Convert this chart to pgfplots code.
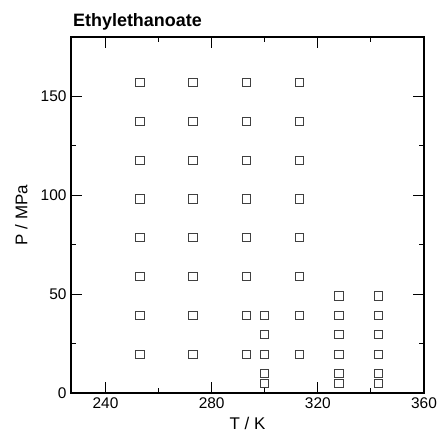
\documentclass[border=0pt]{standalone}
\usepackage{pgfplots}
\pgfplotsset{compat=1.18}
\usepackage{fontspec}
\setmainfont{Liberation Sans}
\setsansfont{Liberation Sans}

% Measured state points: temperature T / K, pressure P / MPa
\pgfplotstableread{
T P
253 19.6
253 39.2
253 58.8
253 78.5
253 98.1
253 117.7
253 137.3
253 156.9
273 19.6
273 39.2
273 58.8
273 78.5
273 98.1
273 117.7
273 137.3
273 156.9
293 19.6
293 39.2
293 58.8
293 78.5
293 98.1
293 117.7
293 137.3
293 156.9
300 4.9
300 9.8
300 19.6
300 29.4
300 39.2
313 19.6
313 39.2
313 58.8
313 78.5
313 98.1
313 117.7
313 137.3
313 156.9
328 4.9
328 9.8
328 19.6
328 29.4
328 39.2
328 49.0
343 4.9
343 9.8
343 19.6
343 29.4
343 39.2
343 49.0
}\statepoints

\begin{document}
\begin{tikzpicture}
\path[use as bounding box] (-71bp,-39bp) rectangle (367bp,393bp);
\begin{axis}[
  at={(0,0)}, anchor=south west,
  scale only axis,
  width=353bp, height=356bp,
  xmin=227, xmax=360, ymin=0, ymax=180,
  xtick={240,280,320,360},
  ytick={0,50,100,150},
  minor x tick num=1,
  minor y tick num=1,
  tick align=inside,
  major tick length=11bp,
  minor tick length=5.5bp,
  axis line style={line width=1.4bp},
  every tick/.style={black, line width=1bp},
  tick label style={font=\fontsize{15.5}{17}\selectfont},
  /pgf/number format/assume math mode=true,
  xticklabel style={yshift=-1bp},
  yticklabel style={xshift=-1bp},
  xlabel={T / K},
  ylabel={P / MPa},
  label style={font=\fontsize{17}{19}\selectfont},
  xlabel style={at={(rel axis cs:0.5,0)}, anchor=north, yshift=-21bp},
  ylabel style={at={(rel axis cs:0,0.5)}, anchor=south, yshift=40bp},
  clip=false,
]
\addplot[only marks, mark=square, mark size=4.1bp,
  mark options={draw=black!75, line width=1bp}]
  table[x=T, y=P] {\statepoints};
\node[anchor=west, font=\fontsize{18}{21}\selectfont\bfseries, inner sep=0pt]
  at (rel axis cs:0,1) [xshift=2bp, yshift=15bp] {Ethylethanoate};
\end{axis}
\end{tikzpicture}
\end{document}
